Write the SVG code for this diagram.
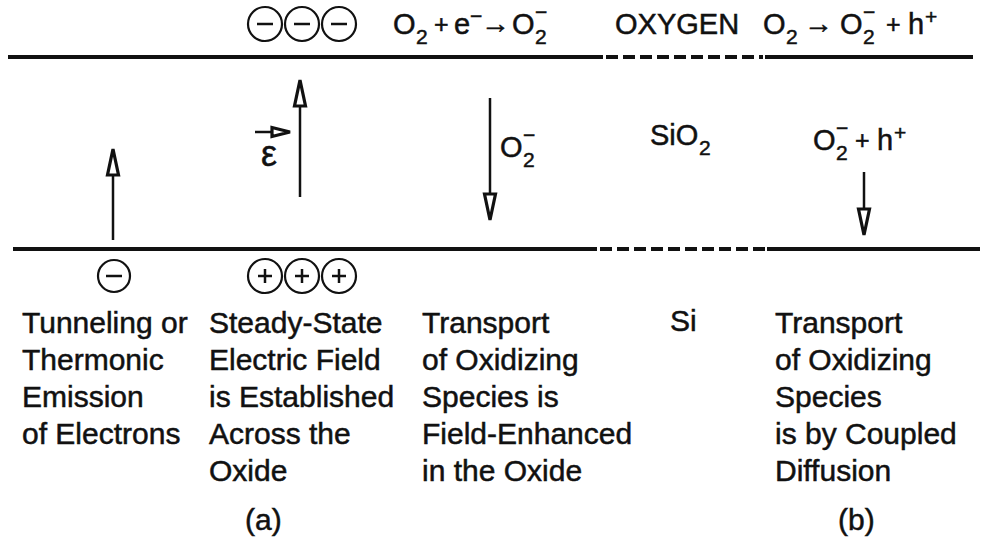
<svg xmlns="http://www.w3.org/2000/svg" width="987" height="547" viewBox="0 0 987 547">
<style>
text{font-family:"Liberation Sans",Arial,"DejaVu Sans",sans-serif;fill:#111;stroke:#111;stroke-width:0.5;}
.t{font-size:30px;}
.m{font-size:29px;}
.s{font-size:21px;}
.p{font-size:25px;}
.ln{stroke:#111;stroke-width:4;fill:none;}
.dash{stroke:#111;stroke-width:4;stroke-dasharray:12 5;fill:none;}
.sh{stroke:#111;stroke-width:2.5;fill:none;}
.hd{fill:#fff;stroke:#111;stroke-width:3.2;stroke-linejoin:miter;}
.ch{fill:#fff;stroke:#111;stroke-width:2.2;}
.sg{stroke:#111;stroke-width:2.5;}
</style>
<g id="interfaces">
<line class="ln" x1="8" y1="57" x2="603" y2="57"/>
<line class="dash" x1="606" y1="57" x2="763" y2="57"/>
<line class="ln" x1="765" y1="57" x2="973" y2="57"/>
<line class="ln" x1="13" y1="249" x2="597" y2="249"/>
<line class="dash" x1="600" y1="249" x2="765" y2="249"/>
<line class="ln" x1="767" y1="249" x2="980" y2="249"/>
</g>
<g id="top-charges">
<circle class="ch" cx="265" cy="24" r="17"/><line class="sg" x1="257" y1="24" x2="273" y2="24"/>
<circle class="ch" cx="302" cy="24" r="17"/><line class="sg" x1="294" y1="24" x2="310" y2="24"/>
<circle class="ch" cx="339" cy="24" r="17"/><line class="sg" x1="331" y1="24" x2="347" y2="24"/>
</g>
<g id="bottom-charges">
<circle class="ch" cx="114" cy="276" r="16"/><line class="sg" x1="106" y1="276" x2="122" y2="276"/>
<circle class="ch" cx="265" cy="276" r="17"/><line class="sg" x1="258" y1="276" x2="272" y2="276"/><line class="sg" x1="265" y1="269" x2="265" y2="283"/>
<circle class="ch" cx="302" cy="276" r="17"/><line class="sg" x1="295" y1="276" x2="309" y2="276"/><line class="sg" x1="302" y1="269" x2="302" y2="283"/>
<circle class="ch" cx="339" cy="276" r="17"/><line class="sg" x1="332" y1="276" x2="346" y2="276"/><line class="sg" x1="339" y1="269" x2="339" y2="283"/>
</g>
<g id="top-labels">
<text class="m" x="393" y="34">O</text><text class="s" x="416" y="44">2</text>
<text class="p" x="434" y="33">+</text><text class="m" x="454" y="34">e</text><text class="s" x="470" y="23">−</text>
<text class="m" x="481" y="33">→</text>
<text class="m" x="512" y="34">O</text><text class="s" x="535" y="44">2</text><text class="s" x="535" y="19">−</text>
<text class="m" x="615" y="34">OXYGEN</text>
<text class="m" x="763" y="34">O</text><text class="s" x="786" y="44">2</text>
<text class="m" x="804" y="33">→</text>
<text class="m" x="840" y="34">O</text><text class="s" x="863" y="44">2</text><text class="s" x="863" y="19">−</text>
<text class="p" x="886" y="33">+</text><text class="m" x="908" y="34">h</text><text class="s" x="925" y="24">+</text>
</g>
<g id="oxide-labels">
<text x="261" y="166" style="font-size:36px">ε</text>
<text class="m" x="500" y="157">O</text><text class="s" x="523" y="167">2</text><text class="s" x="523" y="142">−</text>
<text class="m" x="650" y="145">SiO</text><text class="s" x="699" y="155">2</text>
<text class="m" x="813" y="150">O</text><text class="s" x="836" y="160">2</text><text class="s" x="836" y="135">−</text>
<text class="p" x="855" y="149">+</text><text class="m" x="877" y="150">h</text><text class="s" x="894" y="140">+</text>
</g>
<g id="connectors">
<line class="sh" x1="113" y1="240" x2="113" y2="170"/><polygon class="hd" points="113,149 107.5,175 118.5,175"/>
<line class="sh" x1="300" y1="197" x2="300" y2="102"/><polygon class="hd" points="300,80 294.5,106 305.5,106"/>
<line class="sh" x1="255" y1="132" x2="273" y2="132"/><polygon class="hd" points="290,132 272,127.5 272,136.5"/>
<line class="sh" x1="490" y1="98" x2="490" y2="198"/><polygon class="hd" points="490,220 484.5,194 495.5,194"/>
<line class="sh" x1="864" y1="172" x2="864" y2="212"/><polygon class="hd" points="864,235 858.5,209 869.5,209"/>
</g>
<g id="col1">
<text class="t" x="22" y="333">Tunneling or</text>
<text class="t" x="22" y="370">Thermonic</text>
<text class="t" x="22" y="407">Emission</text>
<text class="t" x="22" y="444">of Electrons</text>
</g>
<g id="col2">
<text class="t" x="209" y="333">Steady-State</text>
<text class="t" x="209" y="370">Electric Field</text>
<text class="t" x="209" y="407">is Established</text>
<text class="t" x="209" y="444">Across the</text>
<text class="t" x="209" y="481">Oxide</text>
</g>
<g id="col3">
<text class="t" x="422" y="333">Transport</text>
<text class="t" x="422" y="370">of Oxidizing</text>
<text class="t" x="422" y="407">Species is</text>
<text class="t" x="422" y="444">Field-Enhanced</text>
<text class="t" x="422" y="481">in the Oxide</text>
</g>
<g id="col4"><text class="t" x="670" y="331">Si</text></g>
<g id="col5">
<text class="t" x="775" y="333">Transport</text>
<text class="t" x="775" y="370">of Oxidizing</text>
<text class="t" x="775" y="407">Species</text>
<text class="t" x="775" y="444">is by Coupled</text>
<text class="t" x="775" y="481">Diffusion</text>
</g>
<g id="captions">
<text class="t" x="245" y="530">(a)</text>
<text class="t" x="838" y="530">(b)</text>
</g>
</svg>
